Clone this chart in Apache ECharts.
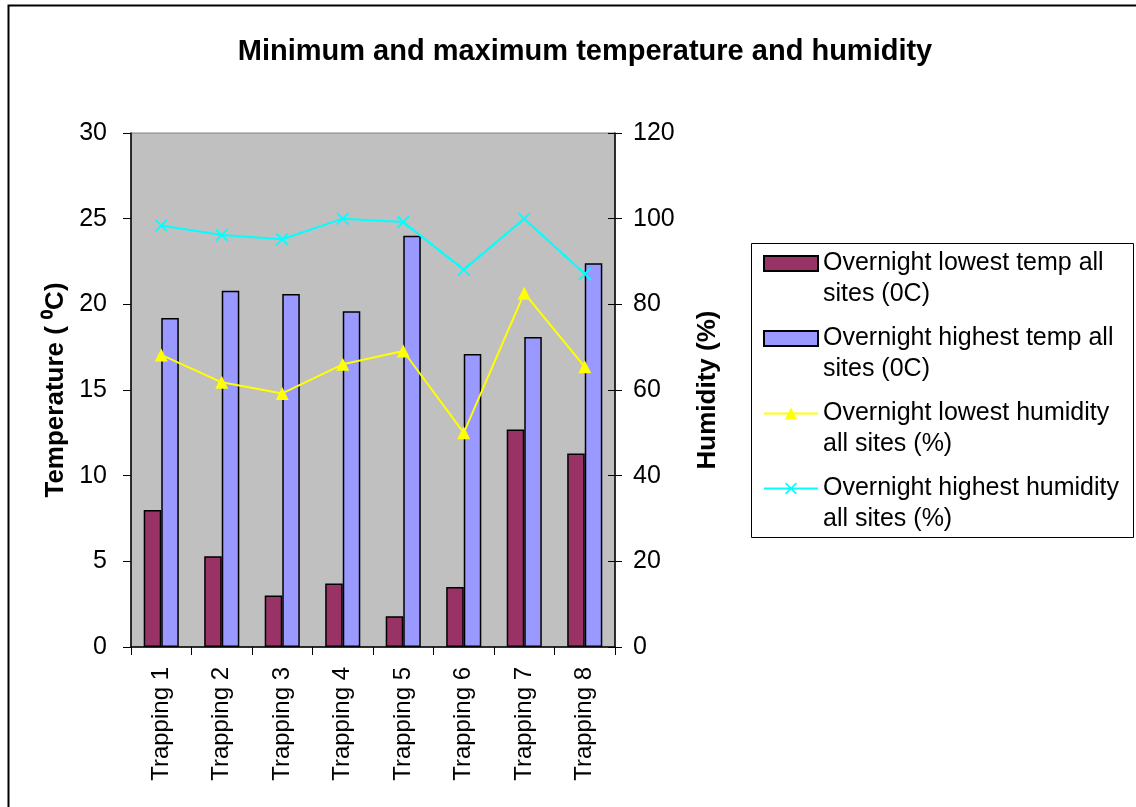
<!DOCTYPE html>
<html>
<head>
<meta charset="utf-8">
<script src="https://cdn.jsdelivr.net/npm/echarts@6/dist/echarts.min.js"></script>
<style>
  html, body { margin: 0; padding: 0; background: #fff; }
  #chart { width: 1136px; height: 807px; }
</style>
</head>
<body>
<div id="chart"></div>
<script>
// Trapping sessions
const categories = ['Trapping 1', 'Trapping 2', 'Trapping 3', 'Trapping 4',
                    'Trapping 5', 'Trapping 6', 'Trapping 7', 'Trapping 8'];

// Overnight temperatures (°C), left axis
const lowestTemp  = [8.0, 5.3, 3.0, 3.7, 1.8, 3.5, 12.7, 11.3];
const highestTemp = [19.2, 20.8, 20.6, 19.6, 24.0, 17.1, 18.1, 22.4];

// Overnight relative humidity (%), right axis
const lowestHumidity  = [68.2, 61.8, 59.2, 66.0, 69.1, 50.0, 82.6, 65.4];
const highestHumidity = [98.4, 96.2, 95.2, 100, 99.2, 88.1, 100, 87.1];

// Axis tick values
const tempTicks = { min: 0, max: 30, step: 5 };
const humidityTicks = { min: 0, max: 120, step: 20 };

const seriesNames = [
  'Overnight lowest temp all\nsites (0C)',
  'Overnight highest temp all\nsites (0C)',
  'Overnight lowest humidity\nall sites (%)',
  'Overnight highest humidity\nall sites (%)'
];

const FONT = '"Liberation Sans", Arial, sans-serif';
const crossPath = 'path://M0,1L1,0L5,4L9,0L10,1L6,5L10,9L9,10L5,6L1,10L0,9L4,5Z';

const chart = echarts.init(document.getElementById('chart'), null, { renderer: 'canvas' });

const humidityAxisBase = {
  type: 'value', min: humidityTicks.min, max: humidityTicks.max, interval: humidityTicks.step,
  position: 'right', splitLine: { show: false }
};

chart.setOption({
  animation: false,
  backgroundColor: '#ffffff',
  title: {
    text: 'Minimum and maximum temperature and humidity',
    left: 580, top: 32, textAlign: 'center',
    textStyle: { fontFamily: FONT, fontSize: 29, fontWeight: 'bold', color: '#000' }
  },
  graphic: [{
    // outer chart frame
    type: 'rect', left: 6, top: 3, z: -1, silent: true,
    shape: { width: 1300, height: 900 },
    style: { fill: 'none', stroke: '#000', lineWidth: 2 }
  }, {
    // legend frame
    type: 'rect', left: 751, top: 243, z: -1, silent: true,
    shape: { width: 382, height: 294 },
    style: { fill: '#fff', stroke: '#000', lineWidth: 1 }
  }],
  legend: {
    orient: 'vertical',
    left: 763, top: 217,
    padding: 0,
    itemWidth: 54, itemHeight: 15, itemGap: -18,
    formatter: name => '\n' + name,
    textStyle: { fontFamily: FONT, fontSize: 25, color: '#000', lineHeight: 31 },
    data: [
      { name: seriesNames[0], icon: 'rect' },
      { name: seriesNames[1], icon: 'rect' },
      { name: seriesNames[2] },
      { name: seriesNames[3] }
    ]
  },
  grid: { left: 131, top: 133, width: 484, height: 514, show: true, backgroundColor: '#c0c0c0', borderColor: '#808080', borderWidth: 1 },
  xAxis: {
    type: 'category',
    data: categories,
    axisLine: { lineStyle: { color: '#000', width: 1.5 } },
    axisTick: { show: true, length: 8, lineStyle: { color: '#000' } },
    axisLabel: { rotate: 90, margin: 20, fontFamily: FONT, fontSize: 24, color: '#000' }
  },
  yAxis: [{
    type: 'value', min: tempTicks.min, max: tempTicks.max, interval: tempTicks.step, position: 'left',
    name: 'Temperature ( \u2070C)', nameLocation: 'middle', nameGap: 62, nameRotate: 90,
    nameTextStyle: { fontFamily: FONT, fontSize: 26, fontWeight: 'bold', color: '#000' },
    axisLine: { show: true, lineStyle: { color: '#000', width: 1.5 } },
    axisTick: { show: true, length: 8, lineStyle: { color: '#000' } },
    axisLabel: { margin: 24, fontFamily: FONT, fontSize: 25, color: '#000' },
    splitLine: { show: false }
  }, Object.assign({}, humidityAxisBase, {
    name: 'Humidity (%)', nameLocation: 'middle', nameGap: 80, nameRotate: 90,
    nameTextStyle: { fontFamily: FONT, fontSize: 26, fontWeight: 'bold', color: '#000' },
    axisLine: { show: true, lineStyle: { color: '#000', width: 1.5 } },
    axisTick: { show: true, length: 7, lineStyle: { color: '#000' } },
    axisLabel: { margin: 18, fontFamily: FONT, fontSize: 25, color: '#000' }
  }), Object.assign({}, humidityAxisBase, {
    // inner half of the right-hand tick marks
    axisLine: { show: false },
    axisTick: { show: true, inside: true, length: 7, lineStyle: { color: '#000' } },
    axisLabel: { show: false }
  })],
  series: [{
    name: seriesNames[0], type: 'bar', yAxisIndex: 0, data: lowestTemp,
    barGap: '0%', barCategoryGap: '42%',
    itemStyle: { color: '#993366', borderColor: '#000', borderWidth: 1.5 }
  }, {
    name: seriesNames[1], type: 'bar', yAxisIndex: 0, data: highestTemp,
    barGap: '0%', barCategoryGap: '42%',
    itemStyle: { color: '#9999ff', borderColor: '#000', borderWidth: 1.5 }
  }, {
    name: seriesNames[2], type: 'line', yAxisIndex: 1, data: lowestHumidity,
    symbol: 'triangle', symbolSize: 13,
    lineStyle: { color: '#ffff00', width: 2 },
    itemStyle: { color: '#ffff00', borderWidth: 0 }
  }, {
    name: seriesNames[3], type: 'line', yAxisIndex: 1, data: highestHumidity,
    symbol: crossPath, symbolSize: 13,
    lineStyle: { color: '#00ffff', width: 2 },
    itemStyle: { color: '#00ffff', borderWidth: 0 }
  }]
});
</script>
</body>
</html>
